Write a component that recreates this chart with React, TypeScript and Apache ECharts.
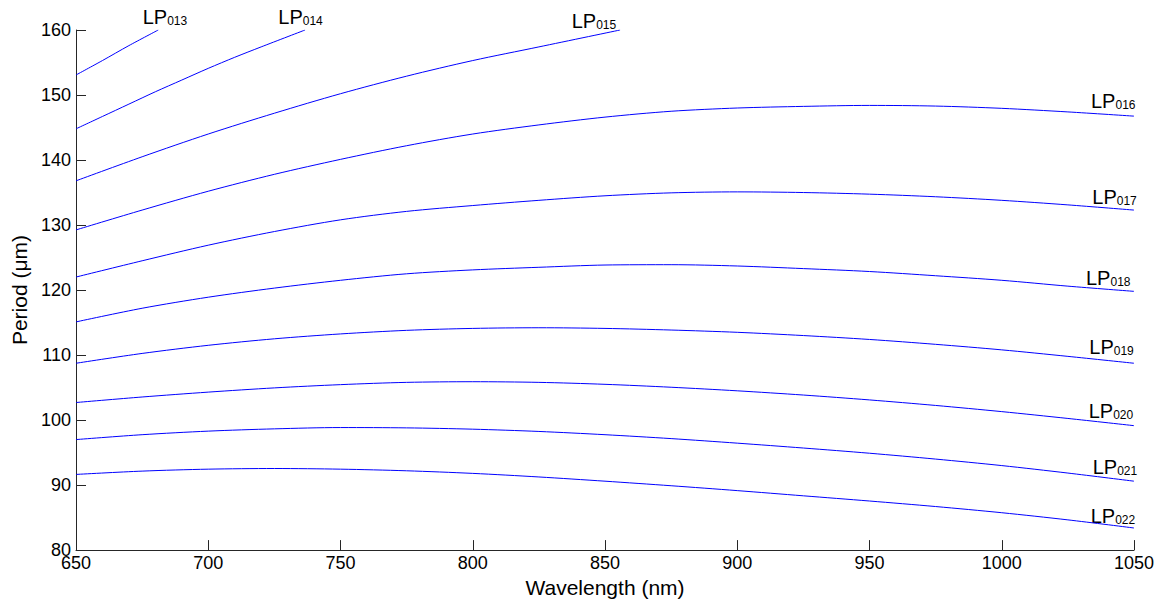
import React, { useEffect, useRef } from "react";
import * as echarts from "echarts";

// Wavelength grid (nm) shared by LP016..LP022
const WL = [650, 675, 700, 725, 750, 775, 800, 825, 850, 875, 900, 925, 950, 975, 1000, 1025, 1050];

// Short curves that leave the top of the plot
const WL_013 = [650, 660, 670, 681.1];
const LP013 = [153.08, 155.3, 157.6, 160];
const WL_014 = [650, 660, 670, 680, 690, 700, 710, 720, 736.6];
const LP014 = [144.8, 146.7, 148.6, 150.5, 152.3, 154.1, 155.8, 157.4, 160];
const WL_015 = [650, 675, 700, 725, 750, 775, 800, 825, 855.7];
const LP015 = [136.8, 140.5, 144.0, 147.2, 150.2, 152.9, 155.3, 157.4, 160];

// Full-range curves (periods in µm)
const LP016 = [129.25, 132.3, 135.2, 137.8, 140.1, 142.2, 144.0, 145.4, 146.6, 147.5, 148.0, 148.25, 148.4, 148.3, 147.95, 147.4, 146.75];
const LP017 = [122.0, 124.5, 126.9, 129.0, 130.8, 132.1, 133.0, 133.8, 134.5, 134.95, 135.1, 135.0, 134.75, 134.35, 133.8, 133.1, 132.3];
const LP018 = [115.1, 117.2, 118.9, 120.3, 121.5, 122.5, 123.1, 123.5, 123.85, 123.9, 123.7, 123.3, 122.85, 122.2, 121.5, 120.6, 119.8];
const LP019 = [108.74, 110.25, 111.5, 112.5, 113.25, 113.8, 114.1, 114.2, 114.1, 113.85, 113.5, 113.0, 112.4, 111.65, 110.8, 109.8, 108.74];
const LP020 = [102.7, 103.55, 104.3, 104.95, 105.45, 105.8, 105.9, 105.8, 105.5, 105.05, 104.5, 103.85, 103.1, 102.25, 101.3, 100.25, 99.14];
const LP021 = [97.0, 97.75, 98.3, 98.65, 98.85, 98.8, 98.6, 98.25, 97.75, 97.15, 96.45, 95.7, 94.9, 94.0, 93.0, 91.85, 90.6];
const LP022 = [91.64, 92.15, 92.45, 92.55, 92.45, 92.2, 91.8, 91.25, 90.6, 89.9, 89.15, 88.35, 87.55, 86.7, 85.75, 84.65, 83.4];

const MODE_NAMES = ["013", "014", "015", "016", "017", "018", "019", "020", "021", "022"];

const FONT = "'Liberation Sans', Arial, Helvetica, sans-serif";

export default function App() {
  const ref = useRef<HTMLDivElement>(null);

  useEffect(() => {
    if (!ref.current) return;
    const chart = echarts.init(ref.current, undefined, { renderer: "svg" });

    const curves: [number[], number[]][] = [
      [WL_013, LP013],
      [WL_014, LP014],
      [WL_015, LP015],
      [WL, LP016],
      [WL, LP017],
      [WL, LP018],
      [WL, LP019],
      [WL, LP020],
      [WL, LP021],
      [WL, LP022],
    ];

    const series = curves.map(([xs, ys], i) => ({
      name: "LP" + MODE_NAMES[i],
      type: "line",
      data: xs.map((x, k) => [x, ys[k]]),
      showSymbol: false,
      smooth: 0.3,
      lineStyle: { color: "#0000ff", width: 1 },
      silent: true,
    }));

    // label anchor points (left x, baseline y) in pixels
    const labelPos: [number, number][] = [
      [142.7, 23.3],
      [278.3, 23.3],
      [571.7, 26.7],
      [1091, 107.3],
      [1092.3, 203.3],
      [1086, 284],
      [1089.3, 352.7],
      [1088.7, 416.7],
      [1092.7, 473.3],
      [1090.7, 521.7],
    ];

    const graphic = MODE_NAMES.map((m, i) => ({
      type: "text",
      x: labelPos[i][0],
      y: labelPos[i][1] + 4,
      style: {
        text: "{a|LP}{b|" + m + "}",
        textAlign: "left",
        textVerticalAlign: "bottom",
        fill: "#000",
        font: "20px " + FONT,
        rich: {
          a: { fontSize: 20, fontFamily: FONT, fill: "#000", verticalAlign: "bottom", lineHeight: 20 },
          b: { fontSize: 12, fontFamily: FONT, fill: "#000", verticalAlign: "bottom", lineHeight: 16 },
        },
      },
      silent: true,
    }));

    const fmt = (v: number) => String(v);

    chart.setOption({
      animation: false,
      backgroundColor: "#ffffff",
      textStyle: { fontFamily: FONT },
      grid: { left: 76, top: 30, right: 30, bottom: 47, containLabel: false },
      xAxis: {
        type: "value",
        min: 650,
        max: 1050,
        interval: 50,
        name: "Wavelength (nm)",
        nameLocation: "middle",
        nameGap: 22,
        nameTextStyle: { fontSize: 21, color: "#000", fontFamily: FONT },
        axisLine: { show: true, lineStyle: { color: "#262626", width: 1 } },
        axisTick: { show: true, inside: true, length: 10, lineStyle: { color: "#262626" } },
        axisLabel: { fontSize: 18, color: "#000", margin: 4, fontFamily: FONT, formatter: fmt },
        splitLine: { show: false },
      },
      yAxis: {
        type: "value",
        min: 80,
        max: 160,
        interval: 10,
        name: "Period (\u03bcm)",
        nameLocation: "middle",
        nameGap: 45,
        nameRotate: 90,
        nameTextStyle: { fontSize: 21, color: "#000", fontFamily: FONT },
        axisLine: { show: true, lineStyle: { color: "#262626", width: 1 } },
        axisTick: { show: true, inside: true, length: 10, lineStyle: { color: "#262626" } },
        axisLabel: { fontSize: 18, color: "#000", margin: 5, fontFamily: FONT, formatter: fmt },
        splitLine: { show: false },
      },
      series,
      graphic,
    });

    return () => {
      chart.dispose();
    };
  }, []);

  return (
    <div
      ref={ref}
      style={{ position: "fixed", left: 0, top: 0, width: 1164, height: 603, background: "#fff" }}
    />
  );
}
